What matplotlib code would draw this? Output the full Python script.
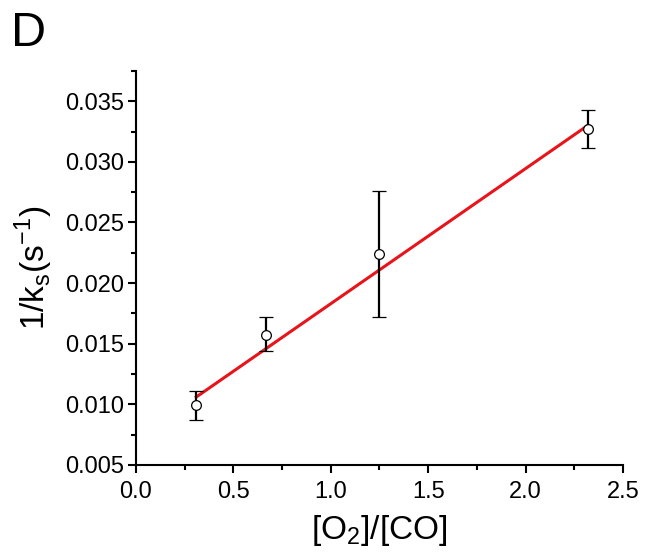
import numpy as np
import matplotlib
matplotlib.use('Agg')
import matplotlib.pyplot as plt

plt.rcParams['font.family'] = ['Liberation Sans', 'DejaVu Sans']
plt.rcParams['mathtext.fontset'] = 'custom'
plt.rcParams['mathtext.rm'] = 'Liberation Sans'

# data
ratio = [0.31, 0.67, 1.25, 2.32]          # [O2]/[CO]
inv_ks = [0.0099, 0.0157, 0.0224, 0.0327]  # 1/ks (s^-1)
err_lo = [0.0012, 0.0013, 0.0052, 0.0016]
err_hi = [0.0012, 0.0015, 0.0052, 0.0016]

fig = plt.figure(figsize=(6.47, 5.54), dpi=100)
ax = fig.add_axes([0.210, 0.161, 0.753, 0.711])

# linear fit
w = 1 / ((np.array(err_lo) + np.array(err_hi)) / 2)
slope, icpt = np.polyfit(ratio, inv_ks, 1, w=w)
xf = np.array([ratio[0], ratio[-1]])
ax.plot(xf, slope * xf + icpt, color='#e8141b', lw=2.2, zorder=2)

ax.errorbar(ratio, inv_ks, yerr=[err_lo, err_hi], fmt='o', mfc='white', mec='black',
            ms=7, mew=0.9, ecolor='black', elinewidth=1.6, capsize=5, capthick=2, zorder=3)

ax.set_xlim(0, 2.5)
ax.set_ylim(0.005, 0.0375)
ax.set_xticks(np.arange(0, 2.51, 0.5))
ax.set_yticks(np.arange(0.005, 0.0351, 0.005))
ax.set_xticks(np.arange(0.25, 2.5, 0.5), minor=True)
ax.set_yticks(np.arange(0.0075, 0.0376, 0.005), minor=True)
ax.xaxis.set_major_formatter(plt.FuncFormatter(lambda v, p: f'{v:.1f}'))
ax.yaxis.set_major_formatter(plt.FuncFormatter(lambda v, p: f'{v:.3f}'))

for s in ['top', 'right']:
    ax.spines[s].set_visible(False)
for s in ['left', 'bottom']:
    ax.spines[s].set_linewidth(1.5)
ax.tick_params(which='major', direction='out', length=5.5, width=1.5, labelsize=17, pad=3)
ax.tick_params(axis='x', which='major', pad=6)
ax.tick_params(which='minor', direction='out', length=3.5, width=1.5)

ax.set_xlabel('[O$_\\mathrm{2}$]/[CO]', fontsize=24, labelpad=7)
ax.set_ylabel('1/k$_\\mathrm{s}$(s$^\\mathrm{-1}$)', fontsize=24, labelpad=7)

fig.text(0.017, 0.98, 'D', fontsize=35, va='top', ha='left')

fig.savefig('out.png', dpi=100)
